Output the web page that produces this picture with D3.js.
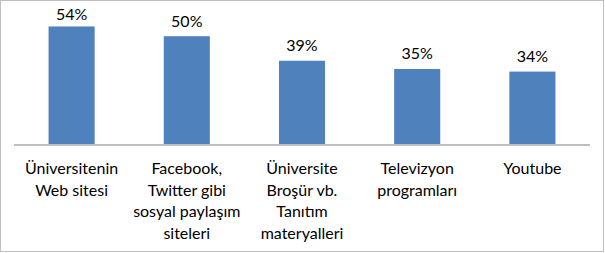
<!DOCTYPE html>
<html>
<head>
<meta charset="utf-8">
<script src="https://cdn.jsdelivr.net/npm/d3@7"></script>
<style>
  html, body { margin: 0; padding: 0; background: #fff; }
  svg { display: block; }
  text { font-family: Lato, "Open Sans", sans-serif; fill: #000; }
</style>
</head>
<body>
<svg id="chart" width="605" height="253"></svg>
<script>
const categories = [
  "Üniversitenin\nWeb sitesi",
  "Facebook,\nTwitter gibi\nsosyal paylaşım\nsiteleri",
  "Üniversite\nBroşür vb.\nTanıtım\nmateryalleri",
  "Televizyon\nprogramları",
  "Youtube"
];
const values = [54.4, 49.9, 38.6, 34.8, 33.6];

const svg = d3.select("#chart");
const W = 605, H = 253;

// border
svg.append("rect")
  .attr("x", 0.5).attr("y", 0.5)
  .attr("width", 603).attr("height", 251)
  .attr("fill", "#fff")
  .attr("stroke", "#7f7f7f")
  .attr("stroke-dasharray", "1,1");

const x = d3.scaleBand().domain(categories).range([14, 590]).paddingInner(0.6).paddingOuter(0.3);
const y = d3.scaleLinear().domain([0, 60]).range([144.5, 14.3]);

svg.append("g").selectAll("rect")
  .data(values)
  .join("rect")
  .attr("x", (d, i) => x(categories[i]))
  .attr("width", x.bandwidth())
  .attr("y", d => y(d))
  .attr("height", d => y(0) - y(d))
  .attr("fill", "#4f81bd");

// axis line
const axis = svg.append("g").attr("transform", `translate(0,${y(0)})`)
  .call(d3.axisBottom(x).tickSize(0).tickFormat(""));
axis.select(".domain").attr("stroke", "#bfbfbf").attr("stroke-width", 2)
  .attr("d", "M14,0.5H590");

// value labels
svg.append("g").selectAll("text")
  .data(values)
  .join("text")
  .attr("x", (d, i) => x(categories[i]) + x.bandwidth() / 2)
  .attr("y", d => Math.max(y(d) - 9.5, 19.5))
  .attr("text-anchor", "middle")
  .attr("font-size", 16)
  .text(d => Math.round(d) + "%");

// category labels
const cl = svg.append("g").selectAll("text")
  .data(categories)
  .join("text")
  .attr("text-anchor", "middle")
  .attr("font-size", 16)
  .attr("x", d => x(d) + x.bandwidth() / 2)
  .attr("y", 174);
cl.each(function(d) {
  const t = d3.select(this);
  d.split("\n").forEach((line, i) => {
    t.append("tspan")
      .attr("x", x(d) + x.bandwidth() / 2)
      .attr("y", 174 + i * 21.5)
      .text(line);
  });
});
</script>
</body>
</html>
